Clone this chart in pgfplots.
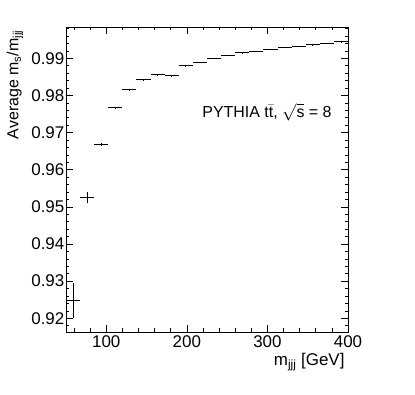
\documentclass[border=0pt]{standalone}
\usepackage{fontspec}
\setmainfont{Liberation Sans}
\usepackage{pgfplots}
\pgfplotsset{compat=1.18}
\usepackage{pgfplotstable}

% bin centre, mean, half bin width, error
\pgfplotstableread{
x y ex ey
58.75  0.9249 8.75 0.0047
76.25  0.9525 8.75 0.0014
93.75  0.9668 8.75 0.0004
111.25 0.9767 8.75 0.00015
128.75 0.9815 8.75 0.0001
146.25 0.9842 8.75 0.0001
163.75 0.9856 8.75 0.0001
181.25 0.9853 8.75 0.0001
198.75 0.9880 8.75 0.0001
216.25 0.9890 8.75 0.0001
233.75 0.9900 8.75 0.0001
251.25 0.9908 8.75 0.0001
268.75 0.9915 8.75 0.0001
286.25 0.9919 8.75 0.0001
303.75 0.9924 8.75 0.0001
321.25 0.9930 8.75 0.0001
338.75 0.9933 8.75 0.0001
356.25 0.9937 8.75 0.0001
373.75 0.9940 8.75 0.0001
391.25 0.9945 8.75 0.0001
}\ratio

\begin{document}
\begin{tikzpicture}
\useasboundingbox (-66bp,-63bp) rectangle (349bp,332bp);
\begin{axis}[
    at={(0,0)}, anchor=south west,
    scale only axis,
    width=282bp, height=305bp,
    xmin=50, xmax=400,
    ymin=0.91631, ymax=0.99843,
    xtick={100,200,300,400},
    minor xtick={60,80,120,140,160,180,220,240,260,280,320,340,360,380},
    ytick={0.92,0.93,0.94,0.95,0.96,0.97,0.98,0.99},
    minor ytick={0.918,0.922,0.924,0.926,0.928,0.932,0.934,0.936,0.938,
                 0.942,0.944,0.946,0.948,0.952,0.954,0.956,0.958,
                 0.962,0.964,0.966,0.968,0.972,0.974,0.976,0.978,
                 0.982,0.984,0.986,0.988,0.992,0.994,0.996,0.998},
    tick align=inside,
    ticklabel pos=left,
    major tick length=7bp,
    minor tick length=3.5bp,
    every tick/.style={black, line width=0.6bp},
    axis line style={line width=0.8bp},
    /pgf/number format/assume math mode=true,
    yticklabel style={/pgf/number format/fixed, /pgf/number format/fixed zerofill,
        /pgf/number format/precision=2, font=\fontsize{17}{20}\selectfont,
        inner xsep=1.5bp},
    xticklabel style={font=\fontsize{17}{20}\selectfont, inner ysep=3bp},
    scaled y ticks=false,
    xlabel={m\textsubscript{jjj} [GeV]},
    xlabel style={at={(axis description cs:1,-0.098)}, anchor=east,
        font=\fontsize{17}{20}\selectfont},
    ylabel={Average m\textsubscript{s}/m\textsubscript{jjj}},
    ylabel style={at={(axis description cs:-0.181,1)}, anchor=east,
        font=\fontsize{16}{19}\selectfont},
]
\addplot[draw=none, mark=none,
    error bars/.cd, x dir=both, x explicit, y dir=both, y explicit,
    error mark=none, error mark options={draw=none},
    error bar style={draw=black, line width=0.9bp}]
    table[x=x, y=y, x error=ex, y error=ey] {\ratio};
\node[anchor=east, font=\fontsize{16}{19}\selectfont]
    at (axis description cs:0.954,0.721) {PYTHIA t$\bar{\mbox{t}}$, $\sqrt{\mbox{s}}$ = 8};
\end{axis}
\end{tikzpicture}
\end{document}
